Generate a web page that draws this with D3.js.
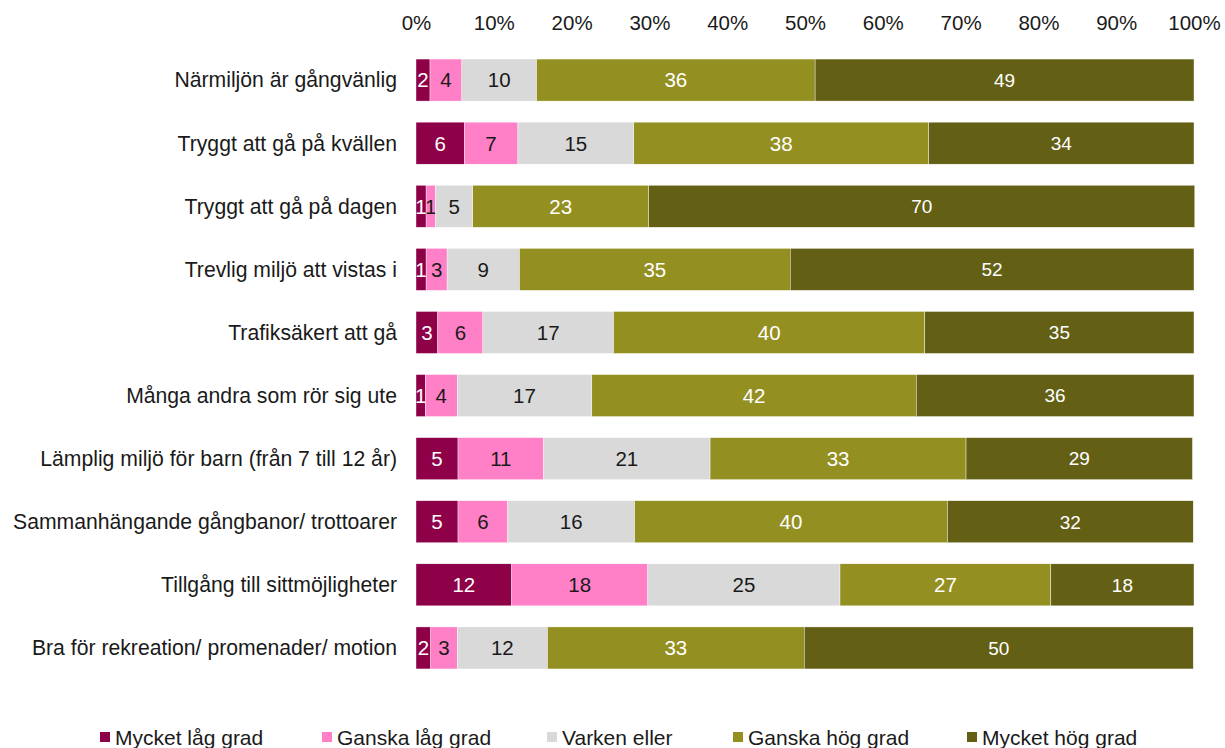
<!DOCTYPE html>
<html>
<head>
<meta charset="utf-8">
<script src="https://cdn.jsdelivr.net/npm/d3@7"></script>
<style>
  body { margin: 0; background: #fff; }
  text { font-family: "Liberation Sans", Arial, sans-serif; }
</style>
</head>
<body>
<div id="chart"></div>
<script>
// categories (top to bottom)
var categories = [
    "Närmiljön är gångvänlig",
    "Tryggt att gå på kvällen",
    "Tryggt att gå på dagen",
    "Trevlig miljö att vistas i",
    "Trafiksäkert att gå",
    "Många andra som rör sig ute",
    "Lämplig miljö för barn (från 7 till 12 år)",
    "Sammanhängande gångbanor/ trottoarer",
    "Tillgång till sittmöjligheter",
    "Bra för rekreation/ promenader/ motion"
];

var seriesNames = ["Mycket låg grad", "Ganska låg grad", "Varken eller", "Ganska hög grad", "Mycket hög grad"];

// percentages per series, same order as categories
var mycketLag  = [1.8, 6.2, 1.3, 1.3, 2.8, 1.2, 5.4, 5.4, 12.3, 1.9];
var ganskaLag  = [4.1, 6.9, 1.2, 2.7, 5.8, 4.1, 11.0, 6.4, 17.5, 3.4];
var varken     = [9.6, 14.9, 4.8, 9.3, 16.8, 17.3, 21.4, 16.3, 24.7, 11.6];
var ganskaHog  = [35.8, 37.9, 22.6, 34.8, 40.0, 41.7, 32.9, 40.2, 27.1, 33.0];
var mycketHog  = [48.7, 34.1, 70.2, 51.9, 34.6, 35.7, 29.1, 31.6, 18.4, 50.0];

var tickValues = [0, 10, 20, 30, 40, 50, 60, 70, 80, 90, 100];

var colors = ["#8e0048", "#ff80c6", "#d9d9d9", "#948f21", "#636016"];
var labelColors = ["#fff", "#1a1a1a", "#1a1a1a", "#fff", "#fff"];

var fullWidth = 1225;
var fullHeight = 748;

var rows = categories.map(function (c, i) {
    return {
        category: c,
        s0: mycketLag[i],
        s1: ganskaLag[i],
        s2: varken[i],
        s3: ganskaHog[i],
        s4: mycketHog[i]
    };
});

var keys = ["s0", "s1", "s2", "s3", "s4"];
var stacked = d3.stack().keys(keys)(rows);

var x = d3.scaleLinear().domain([0, 100]).range([416, 1194]);
var y = d3.scaleBand().domain(categories).range([27.5, 700.5]).paddingInner(0.334).paddingOuter(0.5);

var svg = d3.select("#chart").append("svg")
    .attr("width", fullWidth)
    .attr("height", fullHeight);

// top axis, labels only
var xAxis = d3.axisTop(x).tickValues(tickValues).tickFormat(function (d) { return d + "%"; }).tickSize(0).tickPadding(0);
var axisG = svg.append("g")
    .attr("transform", "translate(0,30)")
    .call(xAxis);
axisG.select(".domain").remove();
axisG.selectAll("text")
    .attr("font-family", "Liberation Sans, Arial, sans-serif")
    .attr("font-size", 20.5)
    .attr("fill", "#1a1a1a")
    .attr("dy", 0);

// category labels
var yAxis = d3.axisLeft(y).tickSize(0).tickPadding(0);
var yG = svg.append("g")
    .attr("transform", "translate(397,0)")
    .call(yAxis);
yG.select(".domain").remove();
yG.selectAll("text")
    .attr("font-family", "Liberation Sans, Arial, sans-serif")
    .attr("font-size", 21.2)
    .attr("fill", "#1a1a1a")
    .attr("dy", "0.35em");

// bars
var layers = svg.append("g").selectAll("g")
    .data(stacked)
    .enter().append("g")
    .attr("fill", function (d, i) { return colors[i]; });

layers.selectAll("rect")
    .data(function (d) { return d; })
    .enter().append("rect")
    .attr("x", function (d) { return x(d[0]); })
    .attr("y", function (d) { return y(d.data.category); })
    .attr("width", function (d) { return x(d[1]) - x(d[0]); })
    .attr("height", y.bandwidth())
    .attr("stroke", "#fff")
    .attr("stroke-width", 0.4);

// value labels
layers.each(function (layer, li) {
    d3.select(this).selectAll("text")
        .data(layer)
        .enter().append("text")
        .attr("x", function (d) { return (x(d[0]) + x(d[1])) / 2; })
        .attr("y", function (d) { return y(d.data.category) + y.bandwidth() / 2; })
        .attr("dy", "0.36em")
        .attr("text-anchor", "middle")
        .attr("font-family", li === 4 ? "Open Sans, sans-serif" : "Liberation Sans, Arial, sans-serif")
        .attr("font-size", li === 4 ? 19 : 20.5)
        .attr("fill", labelColors[li])
        .text(function (d) { return Math.round(d[1] - d[0]); });
});

// legend
var legendX = [100, 322, 547, 733, 967];
var legend = svg.append("g").selectAll("g")
    .data(seriesNames)
    .enter().append("g")
    .attr("transform", function (d, i) { return "translate(" + legendX[i] + ",737)"; });

legend.append("rect")
    .attr("x", 0)
    .attr("y", -5)
    .attr("width", 10)
    .attr("height", 10)
    .attr("fill", function (d, i) { return colors[i]; });

legend.append("text")
    .attr("x", 15)
    .attr("dy", "0.36em")
    .attr("font-size", 21)
    .attr("fill", "#1a1a1a")
    .text(function (d) { return d; });
</script>
</body>
</html>
